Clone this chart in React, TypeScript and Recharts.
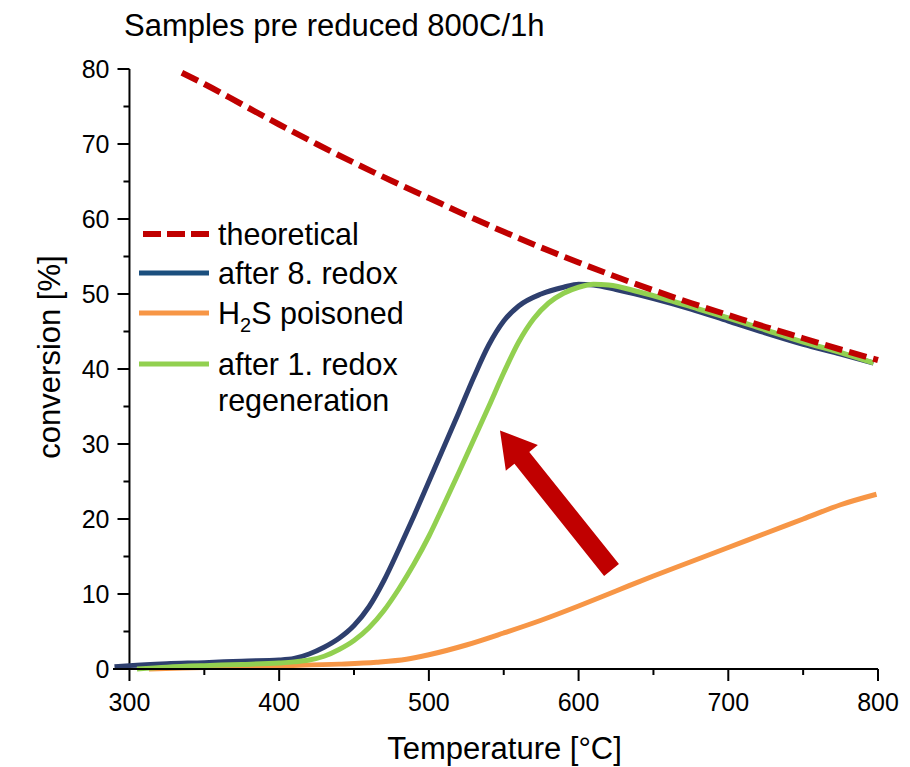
import React from "react"
import { LineChart, Line, XAxis, YAxis, ReferenceLine, Legend } from "recharts"

const FONT = "Arial, 'Liberation Sans', Helvetica, sans-serif"

// theoretical equilibrium conversion
const theoTemp = [335, 350, 375, 400, 425, 450, 475, 500, 525, 550, 575, 600, 625, 650, 675, 700, 725, 750, 775, 800]
const theoConv = [79.5, 78.0, 75.3, 72.6, 70.0, 67.5, 65.1, 62.8, 60.5, 58.3, 56.2, 54.2, 52.3, 50.5, 48.8, 47.2, 45.6, 44.1, 42.6, 41.2]

// after 8. redox
const redox8Temp = [290, 300, 325, 350, 375, 400, 410, 420, 430, 440, 450, 460, 470, 480, 490, 500, 510, 520, 530, 540, 550, 560, 575, 590, 600, 610, 625, 650, 675, 700, 725, 750, 775, 797]
const redox8Conv = [0.3, 0.45, 0.7, 0.85, 1.05, 1.2, 1.4, 2.0, 2.9, 4.1, 5.8, 8.3, 11.8, 16.0, 20.4, 25.0, 29.6, 34.2, 38.9, 43.2, 46.4, 48.4, 50.0, 50.9, 51.3, 51.2, 50.6, 49.4, 48.0, 46.4, 44.8, 43.3, 42.0, 40.8]

// H2S poisoned
const h2sTemp = [313, 350, 400, 440, 465, 485, 500, 525, 550, 575, 600, 625, 650, 675, 700, 725, 750, 775, 799]
const h2sConv = [0.0, 0.2, 0.45, 0.65, 0.9, 1.3, 1.9, 3.2, 4.8, 6.5, 8.4, 10.4, 12.4, 14.3, 16.2, 18.1, 20.0, 21.9, 23.3]

// after 1. redox regeneration
const redox1Temp = [305, 325, 350, 375, 400, 410, 420, 430, 440, 450, 460, 470, 480, 490, 500, 510, 520, 530, 540, 550, 560, 570, 580, 590, 600, 610, 620, 640, 660, 680, 700, 725, 750, 775, 797]
const redox1Conv = [0.0, 0.25, 0.45, 0.6, 0.8, 0.95, 1.2, 1.7, 2.6, 3.8, 5.5, 7.8, 10.7, 14.0, 17.7, 21.9, 26.2, 30.6, 35.0, 39.5, 43.6, 46.7, 48.8, 50.1, 50.9, 51.3, 51.2, 50.3, 49.2, 48.0, 46.8, 45.2, 43.6, 42.2, 40.8]

const xMajor = [300, 400, 500, 600, 700, 800]
const xMinor = [350, 450, 550, 650, 750]
const yMajor = [0, 10, 20, 30, 40, 50, 60, 70, 80]
const yMinor = [5, 15, 25, 35, 45, 55, 65, 75]

// arrow annotation: tail -> tip (temperature, conversion)
const arrowTail = { x: 622, y: 13.2 }
const arrowTip = { x: 547.5, y: 31.8 }

const toRows = (ts: number[], vs: number[]) => ts.map((t, i) => ({ t, v: vs[i] }))

const theoData = toRows(theoTemp, theoConv)
const redox8Data = toRows(redox8Temp, redox8Conv)
const h2sData = toRows(h2sTemp, h2sConv)
const redox1Data = toRows(redox1Temp, redox1Conv)

const XTick = (props: any) => {
  const { x, y, payload } = props
  const major = xMajor.includes(payload.value)
  return (
    <g>
      <line x1={x} x2={x} y1={y} y2={y + (major ? 12 : 6)} stroke="#000" strokeWidth={2} />
      {major && (
        <text x={x} y={y + 42} textAnchor="middle" fontSize={25} fill="#000" fontFamily={FONT}>
          {payload.value}
        </text>
      )}
    </g>
  )
}

const Arrow = (p: any) => {
  const { x1, y1, x2, y2 } = p
  const dx = x2 - x1
  const dy = y2 - y1
  const len = Math.hypot(dx, dy)
  const ux = dx / len
  const uy = dy / len
  const nx = -uy
  const ny = ux
  const bx = x2 - ux * 35
  const by = y2 - uy * 35
  const pts = [
    [x1 + nx * 9.5, y1 + ny * 9.5],
    [bx + nx * 9.5, by + ny * 9.5],
    [bx + nx * 20.5, by + ny * 20.5],
    [x2, y2],
    [bx - nx * 20.5, by - ny * 20.5],
    [bx - nx * 9.5, by - ny * 9.5],
    [x1 - nx * 9.5, y1 - ny * 9.5],
  ]
    .map((q) => q.join(","))
    .join(" ")
  return (
    <g>
      <polygon points={pts} fill="#fff" stroke="#fff" strokeWidth={7} />
      <polygon points={pts} fill="#c00000" />
    </g>
  )
}

const legendItems = [
  { key: "theo", color: "#c00000", dashed: true, top: 0 },
  { key: "r8", color: "#1b4f7e", dashed: false, top: 39 },
  { key: "h2s", color: "#f79646", dashed: false, top: 79 },
  { key: "r1", color: "#92d050", dashed: false, top: 130 },
]

const legendLabel = (key: string) => {
  if (key === "theo") return "theoretical"
  if (key === "r8") return "after 8. redox"
  if (key === "h2s")
    return (
      <>
        H<span style={{ fontSize: 20, position: "relative", top: 8 }}>2</span>S poisoned
      </>
    )
  return (
    <>
      after 1. redox
      <br />
      regeneration
    </>
  )
}

const LegendBox = () => (
  <div style={{ position: "relative", width: 320, height: 200, fontFamily: FONT, fontSize: 30.5, color: "#000" }}>
    {legendItems.map((it) => (
      <div key={it.key} style={{ position: "absolute", left: 0, top: it.top, display: "flex", alignItems: "flex-start" }}>
        <svg width={72} height={36} style={{ display: "block" }}>
          <line
            x1={it.dashed ? 4 : 0}
            x2={70}
            y1={18}
            y2={18}
            stroke={it.color}
            strokeWidth={it.dashed ? 6 : 5}
            strokeDasharray={it.dashed ? "18 6" : undefined}
          />
        </svg>
        <div style={{ marginLeft: 7, lineHeight: "36px", whiteSpace: "nowrap" }}>{legendLabel(it.key)}</div>
      </div>
    ))}
  </div>
)

export default function App() {
  return (
    <div style={{ position: "relative", width: 900, height: 759, background: "#fff" }}>
      <div
        style={{
          position: "absolute",
          left: 116,
          top: 0,
          fontFamily: FONT,
          fontSize: 31,
          color: "#000",
          whiteSpace: "nowrap",
          zIndex: 2,
        }}
      >
        Samples pre reduced 800C/1h
      </div>
      <LineChart width={900} height={759} margin={{ top: 61, right: 30, bottom: 0, left: 35 }}>
        <XAxis
          type="number"
          dataKey="t"
          domain={[289, 800]}
          ticks={[...xMajor, ...xMinor].sort((a, b) => a - b)}
          interval={0}
          tick={<XTick />}
          tickLine={false}
          tickSize={0}
          tickMargin={0}
          height={98}
          axisLine={{ stroke: "#000", strokeWidth: 2 }}
          label={{
            value: "Temperature [°C]",
            position: "insideBottom",
            offset: 8,
            dx: 9,
            fontSize: 31,
            fill: "#000",
            fontFamily: FONT,
          }}
        />
        <YAxis
          type="number"
          domain={[0, 80]}
          width={70}
          tick={false}
          tickLine={false}
          axisLine={false}
          label={{
            value: "conversion [%]",
            angle: -90,
            position: "insideLeft",
            offset: 6,
            dy: -12,
            fontSize: 31,
            fill: "#000",
            fontFamily: FONT,
            style: { textAnchor: "middle" },
          }}
        />
        <ReferenceLine x={300} stroke="#000" strokeWidth={2} />
        {yMinor.map((v) => (
          <ReferenceLine
            key={"yn" + v}
            segment={[
              { x: 296, y: v },
              { x: 300, y: v },
            ]}
            stroke="#000"
            strokeWidth={2}
          />
        ))}
        {yMajor.map((v) => (
          <ReferenceLine
            key={"ym" + v}
            segment={[
              { x: 292, y: v },
              { x: 300, y: v },
            ]}
            stroke="#000"
            strokeWidth={2}
            label={{ value: v, position: "left", offset: 8, fontSize: 25, fill: "#000", fontFamily: FONT }}
          />
        ))}
        <ReferenceLine segment={[arrowTail, arrowTip]} shape={<Arrow />} />
        <Line
          data={h2sData}
          dataKey="v"
          type="monotone"
          stroke="#f79646"
          strokeWidth={5}
          dot={false}
          isAnimationActive={false}
        />
        <Line
          data={redox8Data}
          dataKey="v"
          type="monotone"
          stroke="#2e3f6e"
          strokeWidth={5}
          dot={false}
          isAnimationActive={false}
        />
        <Line
          data={redox1Data}
          dataKey="v"
          type="monotone"
          stroke="#92d050"
          strokeWidth={5}
          dot={false}
          isAnimationActive={false}
        />
        <Line
          data={theoData}
          dataKey="v"
          type="monotone"
          stroke="#c00000"
          strokeWidth={6}
          strokeDasharray="18 7"
          dot={false}
          isAnimationActive={false}
        />
        <Legend
          layout="vertical"
          align="center"
          verticalAlign="middle"
          content={<LegendBox />}
          wrapperStyle={{ left: 131, top: 208, width: 320, height: 200 }}
        />
      </LineChart>
    </div>
  )
}
